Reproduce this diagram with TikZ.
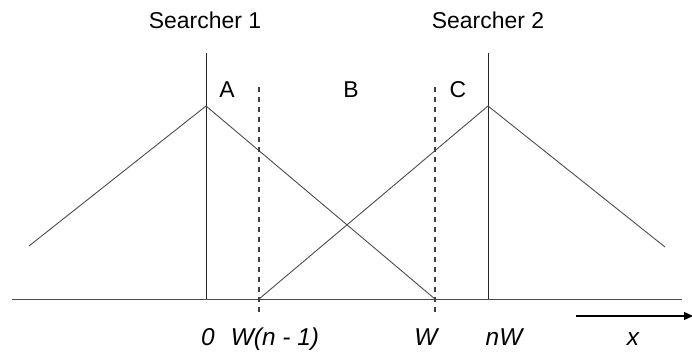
\documentclass[tikz,border=0pt]{standalone}
\usepackage{fontspec}
\setmainfont{Liberation Sans}
\usetikzlibrary{arrows.meta}
\begin{document}
\begin{tikzpicture}[x=1bp,y=-1bp,
  lbl/.style={anchor=base,inner sep=0pt,font=\fontsize{23}{26}\selectfont},
  ilbl/.style={lbl,font=\fontsize{24.5}{28}\selectfont\itshape},
  ln/.style={draw=black!70,line width=0.9bp},
  vln/.style={draw=black!85,line width=1bp},
  dln/.style={draw=black!75,line width=1.5bp,dash pattern=on 5bp off 5bp}]
\useasboundingbox (0,0) rectangle (692,352);
% coordinates
\coordinate (bl) at (12,299);
\coordinate (br) at (682,299);
\coordinate (s1top) at (206,53);
\coordinate (s1bot) at (206,299);
\coordinate (p1) at (206,106);
\coordinate (l1) at (29,246);
\coordinate (wbot) at (435,299);
\coordinate (s2top) at (488,53);
\coordinate (s2bot) at (488,299);
\coordinate (p2) at (488,106);
\coordinate (wn1) at (259,299);
\coordinate (r2) at (665,247);
\coordinate (d1top) at (259,87);
\coordinate (d1bot) at (259,316);
\coordinate (d2top) at (435,87);
\coordinate (d2bot) at (435,316);
\coordinate (astart) at (576,316);
\coordinate (aend) at (693,316);
% lines
\draw[ln] (bl) -- (br);
\draw[vln] (s1top) -- (s1bot);
\draw[vln] (s2top) -- (s2bot);
\draw[ln] (l1) -- (p1) -- (wbot);
\draw[ln] (wn1) -- (p2) -- (r2);
\draw[dln] (d1top) -- (d1bot);
\draw[dln] (d2top) -- (d2bot);
\draw[line width=1.3bp,-{Triangle[length=9bp,width=8bp]}] (astart) -- (aend);
% labels
\node[lbl] (t1) at (205,28) {Searcher 1};
\node[lbl] (t2) at (488,28) {Searcher 2};
\node[lbl] (la) at (227,97) {A};
\node[lbl] (lb) at (351,97) {B};
\node[lbl] (lc) at (458,97) {C};
\node[ilbl] (x0) at (208,345) {0};
\node[ilbl] (xwn) at (275,345) {W(n - 1)};
\node[ilbl] (xw) at (426,345) {W};
\node[ilbl] (xnw) at (504,345) {nW};
\node[ilbl] (xx) at (633,345) {x};
\end{tikzpicture}
\end{document}
